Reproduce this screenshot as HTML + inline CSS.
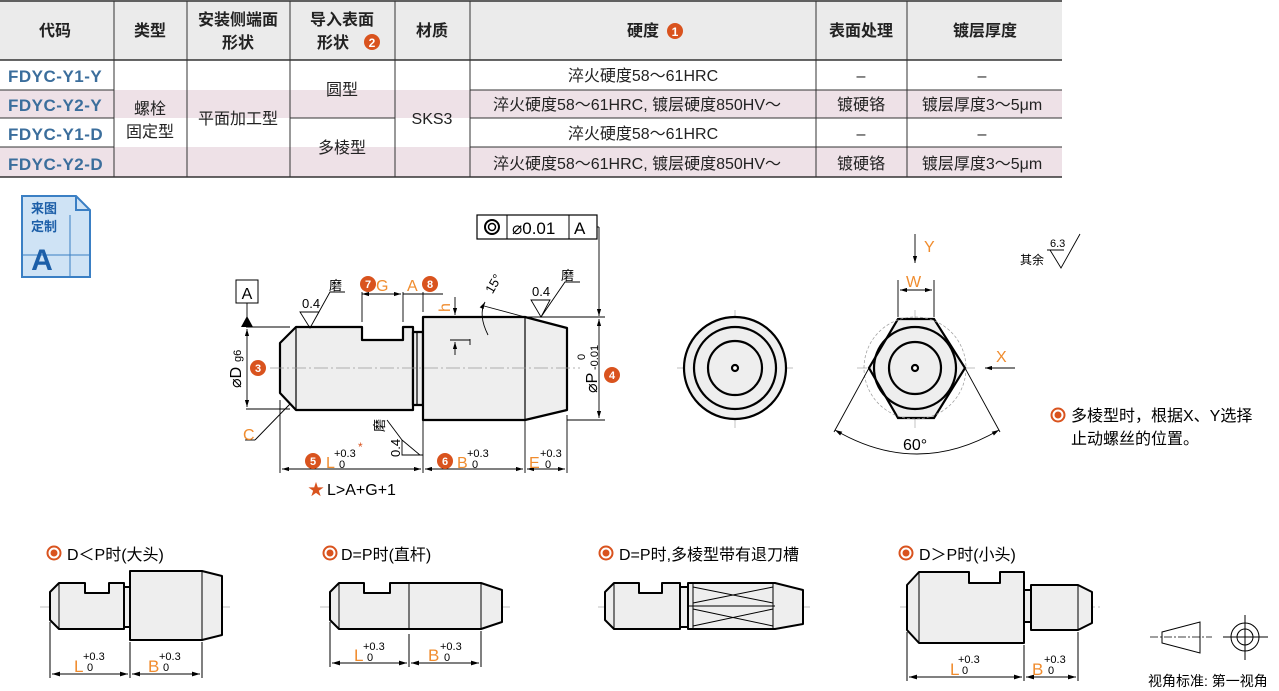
<!DOCTYPE html>
<html><head><meta charset="utf-8"><style>
body{margin:0;background:#fff;width:1279px;height:691px;overflow:hidden;font-family:"Liberation Sans","Noto Sans CJK SC",sans-serif;}
svg{position:absolute;left:0;top:0}
</style></head><body>
<svg width="1279" height="691" viewBox="0 0 1279 691" font-family="Liberation Sans, Noto Sans CJK SC, sans-serif">
<defs>
<marker id="ar" viewBox="0 0 10 6" refX="10" refY="3" markerWidth="8" markerHeight="5" orient="auto-start-reverse"><path d="M0,0L10,3L0,6z" fill="#000"/></marker>
</defs>
<!-- table -->
<rect x="0" y="0" width="1062" height="60" fill="#ebebeb"/>
<rect x="0" y="90" width="1062" height="28" fill="#eee1e7"/>
<rect x="0" y="147" width="1062" height="30" fill="#eee1e7"/>
<g stroke="#333" stroke-width="1" fill="none">
<line x1="0" y1="1" x2="1062" y2="1" stroke-width="1.5"/>
<line x1="0" y1="60" x2="1062" y2="60" stroke-width="1.5"/>
<line x1="0" y1="177" x2="1062" y2="177" stroke-width="1.5"/>
<line x1="114" y1="1" x2="114" y2="177"/><line x1="187" y1="1" x2="187" y2="177"/>
<line x1="290" y1="1" x2="290" y2="177"/><line x1="395" y1="1" x2="395" y2="177"/>
<line x1="470" y1="1" x2="470" y2="177"/>
<line x1="816" y1="1" x2="816" y2="177"/><line x1="907" y1="1" x2="907" y2="177"/>
<line x1="0" y1="90" x2="114" y2="90"/><line x1="0" y1="118" x2="114" y2="118"/><line x1="0" y1="147" x2="114" y2="147"/>
<line x1="290" y1="118" x2="395" y2="118"/>
<line x1="470" y1="90" x2="1062" y2="90"/><line x1="470" y1="118" x2="1062" y2="118"/><line x1="470" y1="147" x2="1062" y2="147"/>
</g>
<g font-size="16" font-weight="bold" fill="#222" text-anchor="middle">
<text x="55" y="36">代码</text><text x="150" y="36">类型</text>
<text x="238" y="25">安装侧端面</text><text x="238" y="48">形状</text>
<text x="342" y="25">导入表面</text><text x="333" y="48">形状</text>
<text x="432" y="36">材质</text><text x="643" y="36">硬度</text>
<text x="861" y="36">表面处理</text><text x="985" y="36">镀层厚度</text>
</g>
<circle cx="372" cy="42" r="8" fill="#d9531e"/><text x="372" y="47" font-size="12" font-weight="bold" fill="#fff" text-anchor="middle">2</text>
<circle cx="675" cy="31" r="8" fill="#d9531e"/><text x="675" y="36" font-size="12" font-weight="bold" fill="#fff" text-anchor="middle">1</text>
<g font-size="17" font-weight="bold" fill="#3b6e9c" letter-spacing="0.5">
<text x="8" y="82">FDYC-Y1-Y</text><text x="8" y="111">FDYC-Y2-Y</text>
<text x="8" y="140">FDYC-Y1-D</text><text x="8" y="170">FDYC-Y2-D</text>
</g>
<g font-size="16" fill="#222" text-anchor="middle">
<text x="150" y="114">螺栓</text><text x="150" y="137">固定型</text>
<text x="238" y="124">平面加工型</text>
<text x="342" y="95">圆型</text><text x="342" y="153">多棱型</text>
<text x="432" y="124">SKS3</text>
<text x="643" y="81">淬火硬度58～61HRC</text>
<text x="637" y="110">淬火硬度58～61HRC, 镀层硬度850HV～</text>
<text x="643" y="139">淬火硬度58～61HRC</text>
<text x="637" y="169">淬火硬度58～61HRC, 镀层硬度850HV～</text>
<text x="861" y="81">–</text><text x="861" y="110">镀硬铬</text><text x="861" y="139">–</text><text x="861" y="169">镀硬铬</text>
<text x="982" y="81">–</text><text x="982" y="110">镀层厚度3～5μm</text><text x="982" y="139">–</text><text x="982" y="169">镀层厚度3～5μm</text>
</g>
<!-- badge -->
<path d="M22,196 H76 L90,210 V277 H22 Z" fill="#cfe3f5" stroke="#3a7fc4" stroke-width="2"/>
<path d="M76,196 V210 H90" fill="none" stroke="#3a7fc4" stroke-width="2"/>
<line x1="70" y1="215" x2="70" y2="277" stroke="#3a7fc4"/><line x1="22" y1="255" x2="90" y2="255" stroke="#3a7fc4"/>
<text x="44" y="213" font-size="13" font-weight="bold" fill="#1d5fa8" text-anchor="middle">来图</text>
<text x="44" y="231" font-size="13" font-weight="bold" fill="#1d5fa8" text-anchor="middle">定制</text>
<text x="42" y="270" font-size="30" font-weight="bold" fill="#1d5fa8" text-anchor="middle">A</text>

<!-- main drawing -->
<g stroke="#000" stroke-width="2.2" fill="#eee" stroke-linejoin="round">
<path d="M280,343 L296,327 H362 V340 H403 V327 H413 V410 H296 L280,393 Z"/>
<rect x="413" y="332" width="10" height="73"/>
<path d="M423,317 H525 L567,328 V410 L525,420 H423 Z"/>
</g>
<g stroke="#000" stroke-width="1.2"><line x1="296" y1="327" x2="296" y2="410"/><line x1="525" y1="317" x2="525" y2="420"/><line x1="417" y1="332" x2="417" y2="405"/></g>
<line x1="270" y1="368" x2="580" y2="368" stroke="#999" stroke-width="0.8" stroke-dasharray="14,3,2,3"/>
<g stroke="#000" stroke-width="0.9" fill="none">
<line x1="246" y1="327" x2="290" y2="327"/><line x1="246" y1="409" x2="290" y2="409"/>
<line x1="247" y1="329" x2="247" y2="407" marker-start="url(#ar)" marker-end="url(#ar)"/>
<line x1="247" y1="303" x2="247" y2="318"/>
<line x1="525" y1="317" x2="605" y2="317"/><line x1="567" y1="420" x2="605" y2="420"/>
<line x1="599" y1="319" x2="599" y2="418" marker-start="url(#ar)" marker-end="url(#ar)"/>
<line x1="597" y1="227" x2="599" y2="227"/><line x1="599" y1="227" x2="599" y2="316" marker-end="url(#ar)"/>
<line x1="280" y1="400" x2="280" y2="473"/><line x1="423" y1="420" x2="423" y2="473"/>
<line x1="525" y1="420" x2="525" y2="473"/><line x1="567" y1="415" x2="567" y2="473"/>
<line x1="282" y1="469" x2="421" y2="469" marker-start="url(#ar)" marker-end="url(#ar)"/>
<line x1="425" y1="469" x2="523" y2="469" marker-start="url(#ar)" marker-end="url(#ar)"/>
<line x1="527" y1="469" x2="565" y2="469" marker-start="url(#ar)" marker-end="url(#ar)"/>
<line x1="362" y1="292" x2="362" y2="322"/><line x1="403" y1="292" x2="403" y2="322"/><line x1="423" y1="292" x2="423" y2="312"/>
<line x1="362" y1="294" x2="401" y2="294" marker-start="url(#ar)" marker-end="url(#ar)"/>
<line x1="403" y1="294" x2="443" y2="294"/>
<line x1="455" y1="297" x2="455" y2="315" marker-end="url(#ar)"/>
<line x1="455" y1="355" x2="455" y2="342" marker-end="url(#ar)"/>
<line x1="450" y1="340" x2="470" y2="340"/>
<line x1="470" y1="339" x2="470" y2="345"/>
<line x1="484" y1="306" x2="525" y2="317"/>
<path d="M485,302 Q478,315 488,335" marker-start="url(#ar)"/>
<line x1="290" y1="404" x2="255" y2="440"/><line x1="255" y1="440" x2="245" y2="440"/>
<path d="M300,312 H319 L310,328 Z M310,328 L330,292 H345"/>
<path d="M531,300 H550 L541,317 Z M541,317 L565,282 H580"/>
<path d="M402,455 V440 L420,455 Z M420,455 H423 M402,440 L387,420"/>
</g>
<polygon points="241,327 253,327 247,316" fill="#000"/>
<rect x="236" y="280" width="22" height="23" fill="#fff" stroke="#000"/>
<text x="247" y="299" font-size="16" text-anchor="middle">A</text>
<rect x="477" y="215" width="120" height="24" fill="#fff" stroke="#000" stroke-width="1.2"/>
<line x1="507" y1="215" x2="507" y2="239" stroke="#000"/><line x1="569" y1="215" x2="569" y2="239" stroke="#000"/>
<circle cx="492" cy="227" r="7" fill="none" stroke="#000" stroke-width="2"/><circle cx="492" cy="227" r="3.5" fill="none" stroke="#000" stroke-width="1.5"/>
<text x="512" y="234" font-size="17">⌀0.01</text><text x="574" y="234" font-size="17">A</text>
<g font-size="13" fill="#000">
<text x="302" y="308">0.4</text><text x="329" y="290">磨</text>
<text x="532" y="296">0.4</text><text x="561" y="280">磨</text>
<text x="483" y="292" transform="rotate(-60 490 285)">15°</text>
<text x="405" y="462" transform="rotate(-90 400 462)">0.4</text>
<text x="384" y="432" transform="rotate(-90 384 432)">磨</text>
</g>
<g font-size="16" fill="#f08c2e">
<text x="376" y="291">G</text><text x="407" y="291">A</text>
<text x="450" y="312" transform="rotate(-90 450 312)">h</text>
<text x="243" y="440">C</text>
<text x="326" y="468">L</text><text x="457" y="468">B</text><text x="529" y="468">E</text>
<text x="241" y="388" transform="rotate(-90 241 388)" fill="#000">⌀D</text>
<text x="241" y="362" transform="rotate(-90 241 362)" fill="#000" font-size="11">g6</text>
<text x="597" y="393" transform="rotate(-90 597 393)" fill="#000">⌀P</text>
<text x="598" y="370" transform="rotate(-90 598 370)" fill="#000" font-size="11">-0.01</text>
<text x="585" y="360" transform="rotate(-90 585 360)" fill="#000" font-size="11">0</text>
</g>
<g font-size="11" fill="#000"><text x="334" y="457">+0.3</text><text x="339" y="468">0</text>
<text x="467" y="457">+0.3</text><text x="472" y="468">0</text>
<text x="540" y="457">+0.3</text><text x="545" y="468">0</text></g>
<text x="358" y="451" font-size="12" fill="#d9531e">*</text>
<g fill="#d9531e"><circle cx="368" cy="284" r="8"/><circle cx="430" cy="284" r="8"/><circle cx="258" cy="368" r="8"/><circle cx="612" cy="375" r="8"/><circle cx="313" cy="461" r="8"/><circle cx="445" cy="461" r="8"/></g>
<g font-size="11" font-weight="bold" fill="#fff" text-anchor="middle"><text x="368" y="288">7</text><text x="430" y="288">8</text><text x="258" y="372">3</text><text x="612" y="379">4</text><text x="313" y="465">5</text><text x="445" y="465">6</text></g>
<text x="308" y="495" font-size="16" fill="#d9531e">★</text><text x="327" y="495" font-size="16">L&gt;A+G+1</text>

<!-- end views -->
<g stroke="#aaa" stroke-width="0.7" stroke-dasharray="10,3,2,3"><line x1="677" y1="368" x2="793" y2="368"/><line x1="735" y1="310" x2="735" y2="428"/>
<line x1="857" y1="368" x2="975" y2="368"/><line x1="915" y1="310" x2="915" y2="428"/></g>
<g stroke="#000" stroke-width="2.2" fill="#eee">
<circle cx="735" cy="368" r="51"/><circle cx="735" cy="368" r="41" fill="none"/><circle cx="735" cy="368" r="27" fill="none"/><circle cx="735" cy="368" r="3" fill="#fff"/>
<path d="M898,319 H934 L965,368 L934,418 H898 L869,368 Z"/>
<circle cx="915" cy="368" r="41" fill="none"/><circle cx="915" cy="368" r="26" fill="none"/><circle cx="915" cy="368" r="3" fill="#fff"/>
</g>
<circle cx="915" cy="368" r="51" fill="none" stroke="#999" stroke-width="0.7" stroke-dasharray="3,2"/>
<g stroke="#000" stroke-width="0.9" fill="none">
<line x1="869" y1="368" x2="834" y2="432"/><line x1="965" y1="368" x2="1000" y2="432"/>
<path d="M835,430 Q917,478 999,430" marker-start="url(#ar)" marker-end="url(#ar)"/>
<line x1="898" y1="280" x2="898" y2="317"/><line x1="934" y1="280" x2="934" y2="317"/>
<line x1="900" y1="290" x2="932" y2="290" marker-start="url(#ar)" marker-end="url(#ar)"/>
<line x1="915" y1="234" x2="915" y2="263" marker-end="url(#ar)"/>
<line x1="1015" y1="368" x2="985" y2="368" marker-end="url(#ar)"/>
<path d="M1050,250 L1061,268 L1080,234 M1047,250 H1064"/>
</g>
<text x="903" y="450" font-size="16">60°</text>
<g font-size="16" fill="#f08c2e"><text x="906" y="287">W</text><text x="924" y="252">Y</text><text x="996" y="362">X</text></g>
<text x="1050" y="247" font-size="11">6.3</text>
<text x="1020" y="264" font-size="12">其余</text>
<circle cx="1058" cy="415" r="6.5" fill="none" stroke="#d9531e" stroke-width="2"/><circle cx="1058" cy="415" r="3.5" fill="#d9531e"/>
<text x="1071" y="421" font-size="16">多棱型时，根据X、Y选择</text>
<text x="1071" y="444" font-size="16">止动螺丝的位置。</text>

<!-- bottom views -->
<g font-size="16">
<text x="67" y="560">D＜P时(大头)</text><text x="341" y="560">D=P时(直杆)</text>
<text x="619" y="560">D=P时,多棱型带有退刀槽</text><text x="919" y="560">D＞P时(小头)</text>
<text x="1148" y="686" font-size="14">视角标准: 第一视角</text>
</g>
<g fill="none" stroke="#d9531e" stroke-width="2"><circle cx="54" cy="553" r="6.5"/><circle cx="330" cy="553" r="6.5"/><circle cx="606" cy="553" r="6.5"/><circle cx="906" cy="553" r="6.5"/></g>
<g fill="#d9531e"><circle cx="54" cy="553" r="3.5"/><circle cx="330" cy="553" r="3.5"/><circle cx="606" cy="553" r="3.5"/><circle cx="906" cy="553" r="3.5"/></g>
<g stroke="#aaa" stroke-width="0.7" stroke-dasharray="14,3,2,3">
<line x1="40" y1="607" x2="232" y2="607"/><line x1="320" y1="607" x2="512" y2="607"/><line x1="598" y1="607" x2="812" y2="607"/><line x1="900" y1="607" x2="1100" y2="607"/>
</g>
<g stroke="#000" stroke-width="2" fill="#eee" stroke-linejoin="round">
<path d="M50,592 L59,583 H85 V593 H109 V583 H124 V629 H59 L50,620 Z"/><rect x="124" y="587" width="6" height="40"/>
<path d="M130,571 H202 L222,576 V635 L202,640 H130 Z"/>
<path d="M330,592 L339,583 H364 V593 H390 V583 H481 L502,590 V622 L481,629 H339 L330,620 Z"/>
<path d="M605,592 L614,583 H639 V593 H662 V583 H680 V629 H614 L605,620 Z"/><rect x="680" y="587" width="8" height="40"/>
<path d="M688,583 H775 L803,590 V624 L775,629 H688 Z"/>
<path d="M907,585 L919,572 H969 V583 H1000 V572 H1024 V643 H919 L907,630 Z"/><rect x="1024" y="590" width="7" height="32"/>
<path d="M1031,585 H1078 L1092,592 V623 L1078,630 H1031 Z"/>
</g>
<g stroke="#000" stroke-width="1" fill="none">
<line x1="59" y1="583" x2="59" y2="629"/><line x1="202" y1="571" x2="202" y2="640"/><line x1="339" y1="583" x2="339" y2="629"/><line x1="409" y1="583" x2="409" y2="629"/><line x1="481" y1="583" x2="481" y2="629"/>
<line x1="614" y1="583" x2="614" y2="629"/><line x1="693" y1="583" x2="693" y2="629"/><line x1="773" y1="583" x2="773" y2="629"/>
<line x1="688" y1="606" x2="775" y2="606"/><path d="M693,587 L773,603 M693,603 L773,587 M693,609 L773,626 M693,626 L773,609"/>
<line x1="919" y1="572" x2="919" y2="643"/><line x1="1078" y1="585" x2="1078" y2="630"/>
<line x1="50" y1="622" x2="50" y2="678"/><line x1="130" y1="642" x2="130" y2="678"/><line x1="202" y1="642" x2="202" y2="678"/>
<line x1="52" y1="674" x2="128" y2="674" marker-start="url(#ar)" marker-end="url(#ar)"/><line x1="132" y1="674" x2="200" y2="674" marker-start="url(#ar)" marker-end="url(#ar)"/>
<line x1="330" y1="622" x2="330" y2="667"/><line x1="409" y1="634" x2="409" y2="667"/><line x1="481" y1="631" x2="481" y2="667"/>
<line x1="332" y1="663" x2="407" y2="663" marker-start="url(#ar)" marker-end="url(#ar)"/><line x1="411" y1="663" x2="479" y2="663" marker-start="url(#ar)" marker-end="url(#ar)"/>
<line x1="907" y1="632" x2="907" y2="681"/><line x1="1024" y1="645" x2="1024" y2="681"/><line x1="1078" y1="632" x2="1078" y2="681"/>
<line x1="909" y1="677" x2="1022" y2="677" marker-start="url(#ar)" marker-end="url(#ar)"/><line x1="1026" y1="677" x2="1076" y2="677" marker-start="url(#ar)" marker-end="url(#ar)"/>
<path d="M1162,632 L1200,622 V653 L1162,643 Z M1223,637 H1268 M1245,615 V660"/>
<circle cx="1245" cy="637" r="14"/><circle cx="1245" cy="637" r="8"/>
</g>
<line x1="1150" y1="637" x2="1212" y2="637" stroke="#000" stroke-width="0.7" stroke-dasharray="8,2,2,2"/>
<g font-size="17" fill="#f08c2e"><text x="74" y="672">L</text><text x="148" y="672">B</text><text x="354" y="661">L</text><text x="428" y="661">B</text><text x="950" y="675">L</text><text x="1032" y="675">B</text></g>
<g font-size="11"><text x="83" y="660">+0.3</text><text x="87" y="671">0</text><text x="159" y="660">+0.3</text><text x="163" y="671">0</text>
<text x="363" y="650">+0.3</text><text x="367" y="661">0</text><text x="440" y="650">+0.3</text><text x="444" y="661">0</text>
<text x="958" y="663">+0.3</text><text x="962" y="674">0</text><text x="1044" y="663">+0.3</text><text x="1048" y="674">0</text></g>
</svg>
</body></html>
